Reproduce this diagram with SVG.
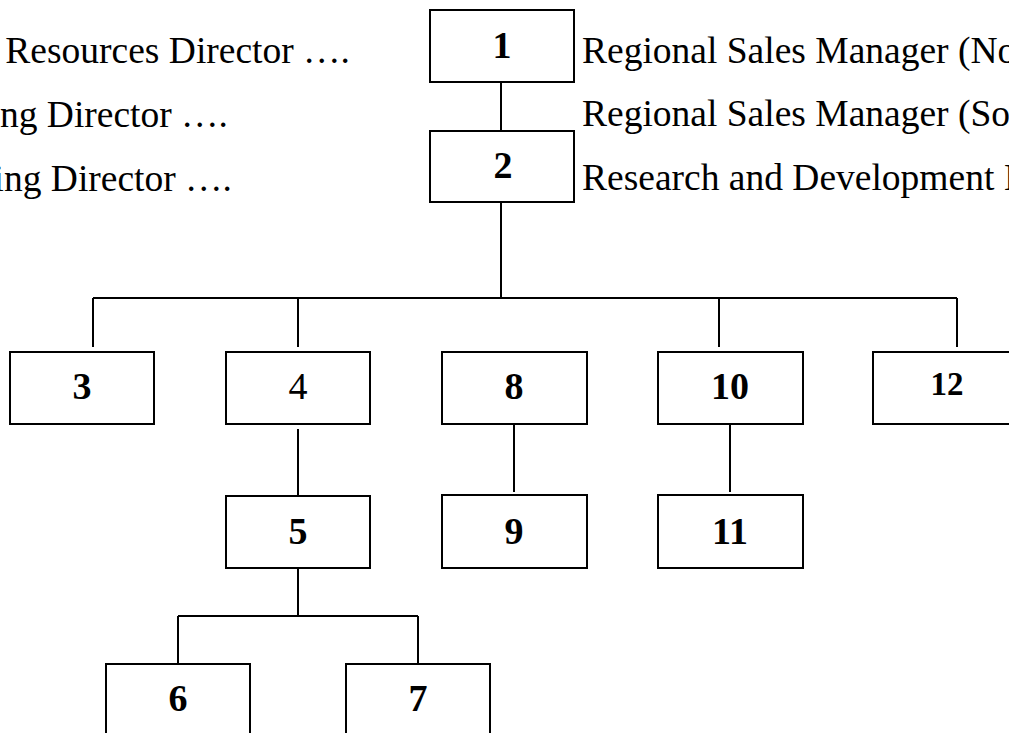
<svg xmlns="http://www.w3.org/2000/svg" width="1009" height="733" viewBox="0 0 1009 733">
<style>
.box{fill:#fff;stroke:#000;stroke-width:2}
.ln{stroke:#000;stroke-width:2;fill:none}
.lbl{font-family:"Liberation Serif","Times New Roman",serif;font-size:38px;font-weight:bold;text-anchor:middle;fill:#000}
.lbln{font-family:"Liberation Serif","Times New Roman",serif;font-size:38px;text-anchor:middle;fill:#000}
.txt{font-family:"Liberation Serif","Times New Roman",serif;font-size:37.5px;fill:#000}
</style>
<rect width="1009" height="733" fill="#fff"/>
<g id="connectors">
<path class="ln" d="M501 82V131"/>
<path class="ln" d="M501 202V298"/>
<path class="ln" d="M93 298H957"/>
<path class="ln" d="M93 298V347M298 298V347M719 298V347M957 298V347"/>
<path class="ln" d="M298 429V496"/>
<path class="ln" d="M514 424V492"/>
<path class="ln" d="M730 424V492"/>
<path class="ln" d="M298 568V616M178 616H418M178 616V664M418 616V664"/>
</g>
<g id="side-texts">
<text class="txt" x="350" y="63" text-anchor="end">Resources Director ….</text>
<text class="txt" x="228" y="127" text-anchor="end">ing Director ….</text>
<text class="txt" x="232" y="191" text-anchor="end">ing Director ….</text>
<text class="txt" x="582" y="63">Regional Sales Manager (No</text>
<text class="txt" x="582" y="126">Regional Sales Manager (So</text>
<text class="txt" x="582" y="190">Research and Development I</text>
</g>
<g id="n1"><rect class="box" x="430" y="10" width="144" height="72"/><text class="lbl" x="502" y="58">1</text></g>
<g id="n2"><rect class="box" x="430" y="131" width="144" height="71"/><text class="lbl" x="503" y="178">2</text></g>
<g id="n3"><rect class="box" x="10" y="352" width="144" height="72"/><text class="lbl" x="82" y="399">3</text></g>
<g id="n4"><rect class="box" x="226" y="352" width="144" height="72"/><text class="lbln" x="298" y="399">4</text></g>
<g id="n8"><rect class="box" x="442" y="352" width="145" height="72"/><text class="lbl" x="514" y="399">8</text></g>
<g id="n10"><rect class="box" x="658" y="352" width="145" height="72"/><text class="lbl" x="730" y="399">10</text></g>
<g id="n12"><rect class="box" x="873" y="352" width="148" height="72"/><text class="lbl" x="947" y="395" style="font-size:33px">12</text></g>
<g id="n5"><rect class="box" x="226" y="496" width="144" height="72"/><text class="lbl" x="298" y="544">5</text></g>
<g id="n9"><rect class="box" x="442" y="495" width="145" height="73"/><text class="lbl" x="514" y="544">9</text></g>
<g id="n11"><rect class="box" x="658" y="495" width="145" height="73"/><text class="lbl" x="730" y="544">11</text></g>
<g id="n6"><rect class="box" x="106" y="664" width="144" height="80"/><text class="lbl" x="178" y="711">6</text></g>
<g id="n7"><rect class="box" x="346" y="664" width="144" height="80"/><text class="lbl" x="418" y="711">7</text></g>
</svg>
